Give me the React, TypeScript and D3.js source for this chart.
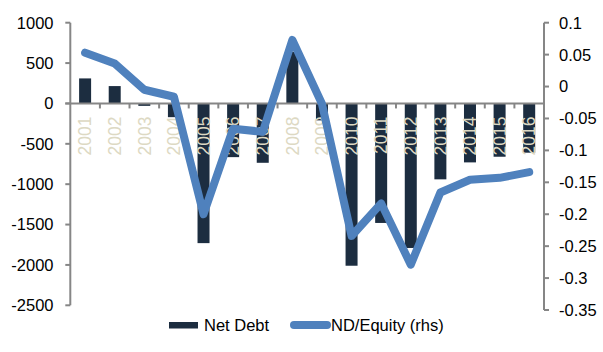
import React from "react";
import * as d3 from "d3";

const years = ["2001","2002","2003","2004","2005","2006","2007","2008","2009","2010","2011","2012","2013","2014","2015","2016"];
const netDebt = [310, 215, -30, -170, -1730, -665, -735, 640, -210, -2010, -1480, -1790, -940, -730, -660, -610];
const ndEquity = [0.053, 0.036, -0.005, -0.016, -0.2, -0.066, -0.071, 0.073, -0.027, -0.234, -0.183, -0.279, -0.166, -0.146, -0.143, -0.134];
const leftTicks = [1000, 500, 0, -500, -1000, -1500, -2000, -2500];
const rightTicks = [0.1, 0.05, 0, -0.05, -0.1, -0.15, -0.2, -0.25, -0.3, -0.35];

const W = 603;
const H = 352;
const FONT = "'Liberation Sans', Arial, sans-serif";
const AXIS = "#868686";
const BAR = "#1C2D40";
const LINE = "#4F81BD";
const YEAR_LABEL = "#DDD9C3";

export default function App() {
  const x = d3.scaleBand<string>().domain(years).range([70.3, 544]).padding(0);
  const bw = x.bandwidth();
  const barW = 12;
  const yL = d3.scaleLinear().domain([-2500, 1000]).range([305.3, 22.7]);
  const yR = d3.scaleLinear().domain([-0.35, 0.1]).range([310, 22.7]);
  const cx = (i: number) => (x(years[i]) as number) + bw / 2;

  const line = d3
    .line<number>()
    .x((_, i) => cx(i))
    .y((d) => yR(d));

  const xLeft = 70.3;
  const xRight = 544;
  const y0 = yL(0);

  return (
    <svg
      width={W}
      height={H}
      style={{ position: "absolute", left: 0, top: 0, background: "#fff" }}
      fontFamily={FONT}
    >
      {/* bars */}
      {netDebt.map((v, i) => (
        <rect
          key={years[i]}
          x={cx(i) - barW / 2}
          y={Math.min(yL(v), y0)}
          width={barW}
          height={Math.abs(yL(v) - y0)}
          fill={BAR}
        />
      ))}

      {/* year labels, rotated */}
      {years.map((yr, i) => (
        <text
          key={yr}
          transform={`translate(${cx(i) + 6.3},${y0 + 13}) rotate(-90)`}
          textAnchor="end"
          fontSize={17.5}
          fill={YEAR_LABEL}
        >
          {yr}
        </text>
      ))}

      {/* left axis */}
      <line x1={xLeft} x2={xLeft} y1={yL(1000)} y2={yL(-2500)} stroke={AXIS} strokeWidth={2} />
      {leftTicks.map((t) => (
        <g key={t}>
          <line x1={xLeft - 5} x2={xLeft} y1={yL(t)} y2={yL(t)} stroke={AXIS} strokeWidth={2} />
          <text x={53.5} y={yL(t)} dy="0.36em" textAnchor="end" fontSize={16.5} fill="#000">
            {t}
          </text>
        </g>
      ))}

      {/* right axis */}
      <line x1={xRight} x2={xRight} y1={yR(0.1)} y2={yR(-0.35)} stroke={AXIS} strokeWidth={2} />
      {rightTicks.map((t) => (
        <g key={t}>
          <line x1={xRight} x2={xRight + 5} y1={yR(t)} y2={yR(t)} stroke={AXIS} strokeWidth={2} />
          <text x={559} y={yR(t)} dy="0.36em" textAnchor="start" fontSize={16.5} fill="#000">
            {t}
          </text>
        </g>
      ))}

      {/* zero line with category ticks */}
      <line x1={xLeft - 5} x2={xRight} y1={y0} y2={y0} stroke={AXIS} strokeWidth={2} />
      {years.slice(1).map((yr) => (
        <line
          key={yr}
          x1={x(yr) as number}
          x2={x(yr) as number}
          y1={y0}
          y2={y0 + 5}
          stroke={AXIS}
          strokeWidth={2}
        />
      ))}

      {/* ND/Equity line */}
      <path
        d={line(ndEquity) as string}
        fill="none"
        stroke={LINE}
        strokeWidth={8}
        strokeLinejoin="round"
        strokeLinecap="round"
      />

      {/* legend */}
      <g>
        <rect x={169} y={322} width={29} height={6.5} fill={BAR} />
        <text x={204} y={325} dy="0.36em" fontSize={16.5} fill="#000">Net Debt</text>
        <line x1={294} x2={327} y1={325} y2={325} stroke={LINE} strokeWidth={8} strokeLinecap="round" />
        <text x={331} y={325} dy="0.36em" fontSize={16.5} fill="#000">ND/Equity (rhs)</text>
      </g>
    </svg>
  );
}
